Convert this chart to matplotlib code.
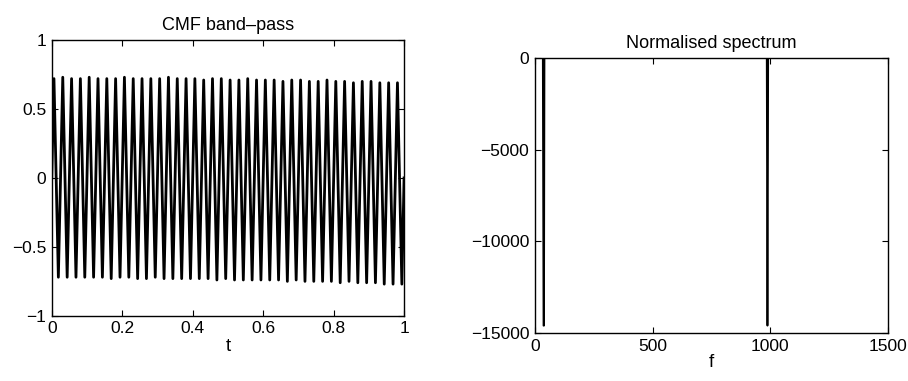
import numpy as np
import matplotlib as mpl
mpl.use('Agg')
from matplotlib import pyplot as plt

plt.rcParams['font.family'] = ['Liberation Sans', 'DejaVu Sans']
plt.rcParams['font.size'] = 12.5

# left panel: band-pass output, 40 cycles over t = 0..1
# peak / trough values read per cycle
N_CYCLES = 40
peaks = [0.72, 0.73, 0.72, 0.72, 0.73, 0.72, 0.72, 0.72, 0.73, 0.72,
         0.72, 0.72, 0.72, 0.73, 0.72, 0.72, 0.72, 0.71, 0.72, 0.72,
         0.71, 0.71, 0.72, 0.71, 0.71, 0.71, 0.70, 0.71, 0.71, 0.70,
         0.70, 0.71, 0.70, 0.70, 0.69, 0.70, 0.70, 0.69, 0.69, 0.69]
troughs = [-0.72, -0.72, -0.72, -0.72, -0.72, -0.72, -0.73, -0.72, -0.72, -0.73,
           -0.73, -0.72, -0.73, -0.73, -0.73, -0.73, -0.73, -0.73, -0.74, -0.73,
           -0.74, -0.74, -0.74, -0.74, -0.74, -0.74, -0.75, -0.74, -0.75, -0.75,
           -0.75, -0.75, -0.76, -0.75, -0.76, -0.76, -0.76, -0.77, -0.77, -0.77]

# right panel: normalised spectrum
spec_f = [0, 34, 37, 39, 41, 43, 60, 980, 985, 988, 990, 991, 1500]
spec_v = [0, 0, -14600, -14600, 0, 0, 0, 0, 0, -14600, -5500, 0, 0]


def style(ax):
    ax.tick_params(direction='in', top=True, right=True, length=4, width=0.8, pad=4)
    for s in ax.spines.values():
        s.set_linewidth(1.0)


fig = plt.figure(figsize=(9.08, 3.81), dpi=100)

ax1 = fig.add_axes([0.057, 0.171, 0.388, 0.724])
k = np.arange(N_CYCLES)
t_ext = np.empty(2 * N_CYCLES)
t_ext[0::2] = (k + 0.25) / N_CYCLES
t_ext[1::2] = (k + 0.75) / N_CYCLES
y_ext = np.empty(2 * N_CYCLES)
y_ext[0::2] = peaks
y_ext[1::2] = troughs
t = np.concatenate([[0], t_ext, [1]])
y = np.concatenate([[0], y_ext, [0]])
ax1.plot(t, y, color='black', linewidth=2.0)
ax1.set_xlim(0, 1)
ax1.set_ylim(-1, 1)
ax1.set_xticks([0, 0.2, 0.4, 0.6, 0.8, 1])
ax1.set_xticklabels(['0', '0.2', '0.4', '0.6', '0.8', '1'])
ax1.set_yticks([-1, -0.5, 0, 0.5, 1])
ax1.set_yticklabels(['\u22121', '\u22120.5', '0', '0.5', '1'])
ax1.set_title('CMF band\u2013pass', fontsize=13, pad=7)
ax1.set_xlabel('t', fontsize=13.5, labelpad=1)
style(ax1)

ax2 = fig.add_axes([0.589, 0.126, 0.389, 0.722])
ax2.plot(spec_f, spec_v, color='black', linewidth=1.3)
ax2.set_xlim(0, 1500)
ax2.set_ylim(-15000, 0)
ax2.set_xticks([0, 500, 1000, 1500])
ax2.set_yticks([-15000, -10000, -5000, 0])
ax2.set_yticklabels(['\u221215000', '\u221210000', '\u22125000', '0'])
ax2.set_title('Normalised spectrum', fontsize=13, pad=7)
ax2.set_xlabel('f', fontsize=13.5, labelpad=0)
style(ax2)

fig.savefig('out.png', dpi=100)
